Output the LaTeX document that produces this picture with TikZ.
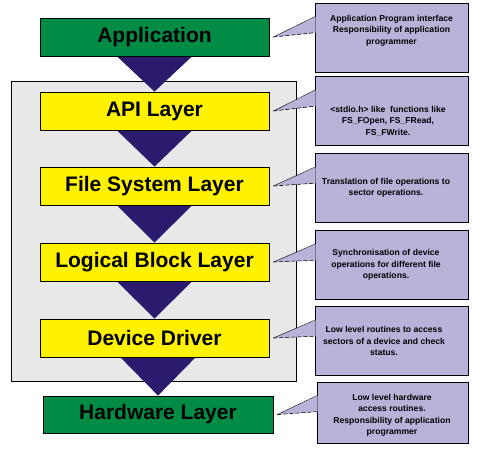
\documentclass[tikz,border=0pt]{standalone}
\usepackage{fontspec}
\setmainfont{Liberation Sans}
\usepackage{tikz}
\usetikzlibrary{calc,backgrounds}
\definecolor{layergreen}{RGB}{0,140,69}
\definecolor{layeryellow}{RGB}{255,242,0}
\definecolor{funnelblue}{RGB}{43,26,110}
\definecolor{notepurple}{RGB}{185,178,217}
\definecolor{stackgray}{RGB}{232,232,232}
\tikzset{>=latex,
  layer/.style={draw=black,line width=0.8pt,minimum width=229pt,minimum height=38pt,inner sep=0pt,
    font=\fontsize{21}{24}\selectfont\bfseries},
  outerlayer/.style={layer,fill=layergreen},
  stacklayer/.style={layer,fill=layeryellow},
  funnel/.style={fill=funnelblue},
  note/.style={draw=black,line width=0.6pt,fill=notepurple,minimum width=153pt,minimum height=69pt,inner sep=0pt},
  notetext/.style={align=center,inner sep=0pt,font=\fontsize{8.6}{11.5}\selectfont\bfseries},
  notetip/.style={fill=notepurple}
}

\begin{document}
\begin{tikzpicture}[x=1pt,y=-1pt]
            \useasboundingbox (0,0) rectangle (480,455);
            % the layers
            \node[outerlayer] (app) at (154.5,37) {Application};
            \node[stacklayer] (api) at (154.5,111) {API Layer};
            \node[stacklayer] (fs) at (154.5,186) {File System Layer};
            \node[stacklayer] (lbl) at (154.5,262) {Logical Block Layer};
            \node[stacklayer] (dd) at (154.5,338) {Device Driver};
            \node[outerlayer,minimum width=230pt,minimum height=37pt] (hw) at (158,414.5) {Hardware Layer};
            \begin{pgfonlayer}{background}
                \draw[fill=stackgray,line width=0.8pt] (11,81) rectangle (296,381);
                \foreach \a/\b in {app/api,api/fs,fs/lbl,lbl/dd,dd/hw}
                    \fill[funnel] ($(\a.south -| \b.north)+(-37.5,0)$) -- ($(\a.south -| \b.north)+(37.5,0)$) -- (\b.north) -- cycle;
            \end{pgfonlayer}
            % the notes
            \node[note] (napp) at (391.5,37.5) {};
            \node[note] (napi) at (391.5,111) {};
            \node[note] (nfs) at (391.5,188) {};
            \node[note] (nlbl) at (391.5,265) {};
            \node[note] (ndd) at (391.5,341) {};
            \node[note,minimum width=151pt,minimum height=61pt] (nhw) at (392.5,412.5) {};
            \foreach \l/\n in {app/napp,api/napi,fs/nfs,lbl/nlbl,dd/ndd,hw/nhw}{
                \fill[notetip] ($(\n.north west)+(1,14)$) -- ([xshift=4pt]\l.east) -- ($(\n.north west)+(1,30)$) -- cycle;
                \draw[line width=0.4pt] ([xshift=4pt]\l.east) -- ($(\n.north west)+(0,14)$);
                \draw[line width=0.6pt,dash pattern=on 4pt off 2pt] ([xshift=4pt]\l.east) -- ($(\n.north west)+(0,30)$);
            }
            \node[notetext] (tapp) at (391.5,30.5) {Application Program interface\\Responsibility of application\\programmer};
            \node[notetext] (tapi) at (388,121) {<stdio.h> like\ \ functions like\\FS\_FOpen, FS\_FRead,\\FS\_FWrite.};
            \node[notetext] (tfs) at (386,188) {Translation of file operations to\\sector operations.};
            \node[notetext] (tlbl) at (386,265) {Synchronisation of device\\operations for different file\\operations.};
            \node[notetext] (tdd) at (384,341) {Low level routines to access\\sectors of a device and check\\status.};
            \node[notetext] (thw) at (392,415.5) {Low level hardware\\access routines.\\Responsibility of application\\programmer};
        \end{tikzpicture}
\end{document}
